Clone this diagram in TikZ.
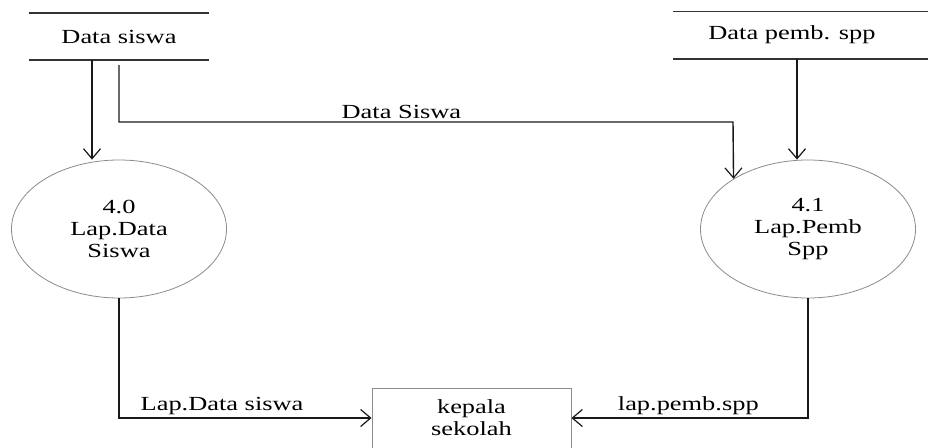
\documentclass[tikz,border=0pt]{standalone}
\usepackage{fontspec}
\setmainfont{Liberation Serif}[FakeStretch=1.32]
\usetikzlibrary{arrows.meta,shapes.geometric}
\begin{document}
\begin{tikzpicture}[x=1pt,y=-1pt,
  every node/.style={font=\fontsize{20}{22}\selectfont, text=black},
  store/.style={minimum height=47pt, inner sep=0pt},
  storeline/.style={draw=black!80, line width=1.6pt},
  proc/.style={ellipse, draw=black!45, line width=0.8pt, minimum width=215pt, minimum height=138pt, inner sep=0pt, align=center},
  ent/.style={rectangle, draw=black!45, line width=0.9pt, minimum width=199pt, minimum height=60pt, inner sep=0pt, align=center},
  flow/.style={draw=black!90, line width=1.4pt, -{Straight Barb[length=10pt,width=17pt,line width=1.2pt]}},
  lbl/.style={above=3pt, inner sep=0pt}]
\useasboundingbox (0,0) rectangle (928,447);
\clip (0,0) rectangle (928,447);
\fill[white] (0,0) rectangle (928,447);
% data stores
\node[store, minimum width=180pt] (ds) at (119,36.5) {Data siswa};
\draw[storeline] (ds.north west) -- (ds.north east);
\draw[storeline] (ds.south west) -- (ds.south east);
\node[store, minimum width=238pt] (ds2) at (792,35) {Data pemb. spp};
\draw[storeline] (ds2.north west) -- ([xshift=20pt]ds2.north east);
\draw[storeline] (ds2.south west) -- ([xshift=20pt]ds2.south east);
% processes
\node[proc] (p40) at (119,229) {4.0\\Lap.Data\\Siswa};
\node[proc] (p41) at (808,229) {4.1\\Lap.Pemb\\Spp};
% external entity
\node[ent] (kp) at (471.5,418) {kepala\\sekolah};
% flows
\draw[flow] ([xshift=-27pt]ds.south) -- ([xshift=-27pt]ds.south |- p40.north);
\coordinate (c1) at (733,122);
\draw[flow] ([yshift=-5pt]ds.south) |- node[lbl, pos=0.73] {Data Siswa} (c1) -- (p41.146.6);
\draw[flow] ([xshift=5pt]ds2.south) -- ([xshift=5pt]ds2.south |- p41.north);
\draw[flow] (p40.south) |- node[lbl, pos=0.704] {Lap.Data siswa} (kp.west);
\draw[flow] (p41.south) |- node[lbl, pos=0.753] {lap.pemb.spp} (kp.east);
\end{tikzpicture}
\end{document}
